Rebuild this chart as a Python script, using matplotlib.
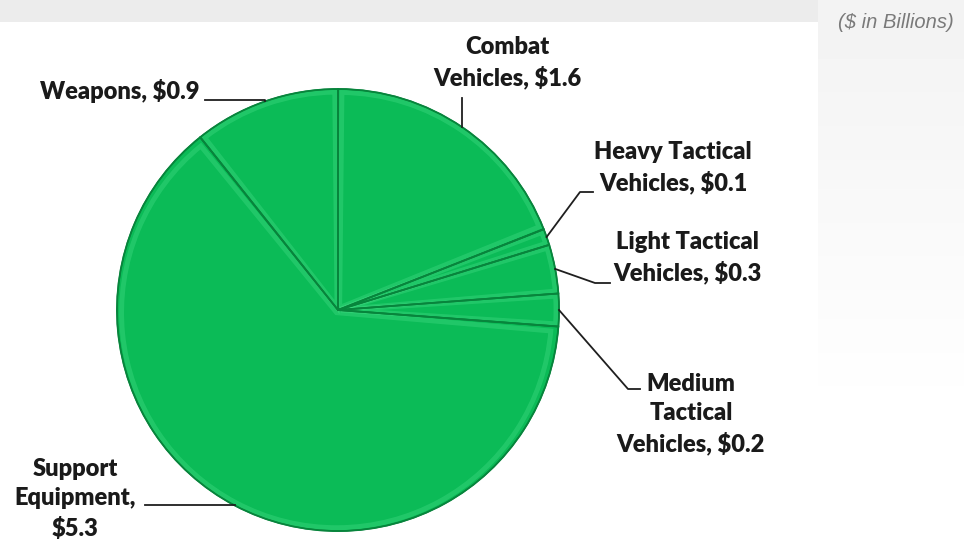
import numpy as np
import matplotlib.pyplot as plt
from matplotlib.patches import Wedge

# data ($ in billions), clockwise from 12 o'clock
categories = ['Combat Vehicles', 'Heavy Tactical Vehicles', 'Light Tactical Vehicles',
              'Medium Tactical Vehicles', 'Support Equipment', 'Weapons']
values = [1.6, 0.1, 0.3, 0.2, 5.3, 0.9]
label_texts = ['Combat\nVehicles, $1.6', 'Heavy Tactical\nVehicles, $0.1',
               'Light Tactical\nVehicles, $0.3', 'Medium\nTactical\nVehicles, $0.2',
               'Support\nEquipment,\n$5.3', 'Weapons, $0.9']
explode = [0, 0, 0, 0, 0.04, 0]

W, H = 964, 541
fig = plt.figure(figsize=(W / 100, H / 100), dpi=100)
ax = fig.add_axes([0, 0, 1, 1])

green = '#0BBB57'
cx, cy, r = 338, 310, 221
# y axis gets inverted below, so angles run the other way round
wedges, _ = ax.pie(values, colors=[green] * len(values), startangle=-90,
                   counterclock=True, radius=r, center=(cx, cy), explode=explode,
                   wedgeprops=dict(edgecolor='#067a38', linewidth=1.0), frame=True)
ax.set_xlim(0, W)
ax.set_ylim(H, 0)
ax.axis('off')

# faded background picture bits
ax.imshow(np.full((2, 2), 0.925), cmap='gray', vmin=0, vmax=1,
          extent=[0, 818, 22, 0], zorder=0, aspect='auto')
grad = np.linspace(0.95, 1.0, 100).reshape(-1, 1)
ax.imshow(grad, cmap='gray', vmin=0, vmax=1, extent=[818, W, 420, 0],
          zorder=0, aspect='auto')
ax.set_xlim(0, W)
ax.set_ylim(H, 0)
ax.text(896, 22, '($ in Billions)', fontsize=14.5, style='italic', color='#7a7a7a',
        family='Liberation Sans', ha='center', va='center')

# bevel look: soft light inner rim and darker border on every slice
for w in wedges:
    mid = np.deg2rad((w.theta1 + w.theta2) / 2)
    c = (w.center[0] + 3 * np.cos(mid), w.center[1] + 3 * np.sin(mid))
    ax.add_patch(Wedge(c, w.r - 6, w.theta1 + 0.6, w.theta2 - 0.6, facecolor='none',
                       edgecolor='#5ae896', linewidth=3.5, alpha=0.28, zorder=3))
    ax.add_patch(Wedge(w.center, w.r, w.theta1, w.theta2, facecolor='none',
                       edgecolor='#07853c', linewidth=1.3, zorder=4))

# label layout: text centre, tail of leader, horizontal run before elbow
label_pos = [(507, 63), (673, 168), (687, 258), (691, 414), (75, 499), (120, 91)]
tails = [(462, 98), (593, 192), (610, 283), (640, 389), (145, 505), (205, 100)]
runs = [0, -13, -15, -12, None, None]

for w, txt, pos, tail, run in zip(wedges, label_texts, label_pos, tails, runs):
    mid = np.deg2rad((w.theta1 + w.theta2) / 2)
    anchor = (w.center[0] + w.r * np.cos(mid), w.center[1] + w.r * np.sin(mid))
    if run is None:
        pts = [tail, (anchor[0], tail[1]), anchor]
    elif run == 0:
        pts = [tail, (tail[0], anchor[1])]
    else:
        pts = [tail, (tail[0] + run, tail[1]), anchor]
    xs, ys = zip(*pts)
    ax.plot(xs, ys, color='#1f1f1f', linewidth=1.3, zorder=5)
    ax.text(pos[0], pos[1], txt, fontsize=17, fontweight='heavy', family='Lato',
            color='#1a1a1a', ha='center', va='center', multialignment='center',
            linespacing=1.4, zorder=6)

fig.savefig('out.png', dpi=100)
